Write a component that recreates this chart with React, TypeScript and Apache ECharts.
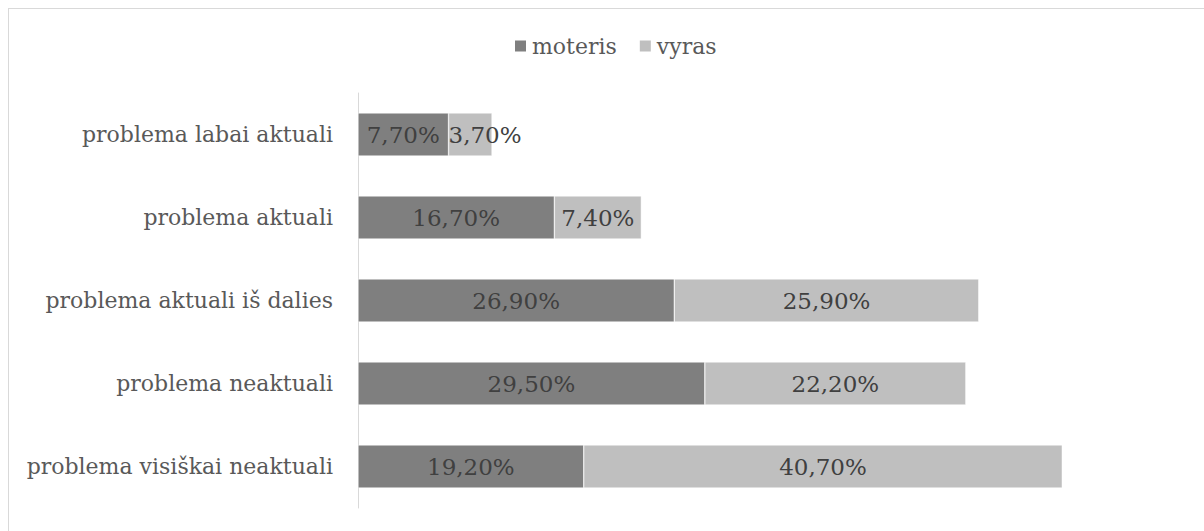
import React, { useEffect, useRef } from "react";
import * as echarts from "echarts";

const categories = [
  "problema labai aktuali",
  "problema aktuali",
  "problema aktuali iš dalies",
  "problema neaktuali",
  "problema visiškai neaktuali",
];
const moteris = [7.7, 16.7, 26.9, 29.5, 19.2];
const vyras = [3.7, 7.4, 25.9, 22.2, 40.7];
const seriesNames = ["moteris", "vyras"];

const FONT = "DejaVu Serif";

export default function App() {
  const ref = useRef<HTMLDivElement>(null);
  useEffect(() => {
    document.body.style.margin = "0";
    const chart = echarts.init(ref.current!, undefined, { renderer: "svg" });
    const fmt = (p: any) => p.value.toFixed(2).replace(".", ",") + "%";
    const label = {
      show: true,
      position: "inside",
      color: "#404040",
      fontFamily: FONT,
      fontSize: 23,
      formatter: fmt,
    };
    const vyrasData = vyras.map((v) =>
      v < 5 ? { value: v, label: { position: "insideLeft", distance: 0 } } : v
    );
    chart.setOption({
      animation: false,
      textStyle: { fontFamily: FONT },
      legend: {
        data: seriesNames,
        left: 499,
        top: 21,
        itemWidth: 13,
        itemHeight: 13,
        itemGap: 21,
        icon: "rect",
        textStyle: { color: "#595959", fontSize: 22, fontFamily: FONT },
      },
      grid: { left: 349, top: 84, width: 823, height: 415, containLabel: false },
      xAxis: {
        type: "value",
        min: 0,
        max: 70,
        show: false,
      },
      yAxis: {
        type: "category",
        data: categories,
        inverse: true,
        axisLine: { show: true, lineStyle: { color: "#d9d9d9", width: 1 } },
        axisTick: { show: false },
        axisLabel: { color: "#595959", fontSize: 22, fontFamily: FONT, margin: 25 },
      },
      series: [
        {
          name: seriesNames[0],
          type: "bar",
          stack: "total",
          data: moteris,
          barCategoryGap: "48%",
          itemStyle: { color: "#7f7f7f", borderColor: "#ffffff", borderWidth: 0.5 },
          label,
        },
        {
          name: seriesNames[1],
          type: "bar",
          stack: "total",
          data: vyrasData,
          barCategoryGap: "48%",
          itemStyle: { color: "#bfbfbf", borderColor: "#ffffff", borderWidth: 0.5 },
          label,
        },
      ],
    });
    return () => chart.dispose();
  }, []);
  return (
    <div
      style={{
        position: "absolute",
        left: 8,
        top: 8,
        width: 1196,
        height: 523,
        borderTop: "1px solid #d9d9d9",
        borderLeft: "1px solid #d9d9d9",
        background: "#fff",
        overflow: "hidden",
      }}
    >
      <div ref={ref} style={{ width: 1195, height: 522 }} />
    </div>
  );
}
